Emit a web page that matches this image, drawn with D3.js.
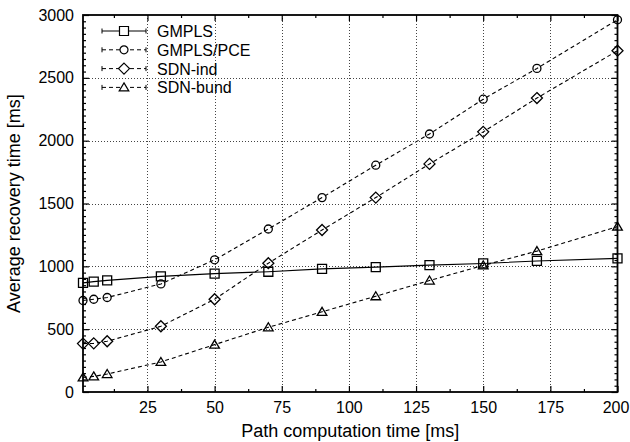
<!DOCTYPE html>
<html>
<head>
<meta charset="utf-8">
<script src="https://cdn.jsdelivr.net/npm/d3@7"></script>
<style>
  body { margin: 0; background: #fff; }
  svg { display: block; }
  text { font-family: "Liberation Sans", Arial, sans-serif; fill: #000; }
</style>
</head>
<body>
<svg></svg>
<script>
const xValues = [1, 5, 10, 30, 50, 70, 90, 110, 130, 150, 170, 200];
const gmpls = [868, 878, 888, 920, 942, 957, 980, 994, 1010, 1023, 1043, 1063];
const gmplsPce = [728, 738, 752, 860, 1052, 1297, 1547, 1805, 2053, 2330, 2575, 2962];
const sdnInd = [385, 387, 404, 523, 738, 1025, 1289, 1547, 1815, 2070, 2339, 2716];
const sdnBund = [116, 124, 143, 239, 377, 515, 638, 762, 887, 1007, 1121, 1316];

const seriesNames = ['GMPLS', 'GMPLS/PCE', 'SDN-ind', 'SDN-bund'];
const xTicks = [25, 50, 75, 100, 125, 150, 175, 200];
const yTicks = [0, 500, 1000, 1500, 2000, 2500, 3000];

const width = 630;
const height = 442;
const margin = {left: 83, right: 12.5, top: 15, bottom: 50};

const svg = d3.select('svg')
  .attr('width', width)
  .attr('height', height);

const xScale = d3.scaleLinear()
  .domain([1, 200])
  .range([margin.left, width - margin.right]);

const yScale = d3.scaleLinear()
  .domain([0, 3000])
  .range([height - margin.bottom, margin.top]);

const x0 = xScale.range()[0], x1 = xScale.range()[1];
const y0 = yScale.range()[0], y1 = yScale.range()[1];

// grid
const grid = svg.append('g')
  .attr('stroke', '#444')
  .attr('stroke-width', 1)
  .attr('stroke-dasharray', '1,2');

grid.selectAll('.vg')
  .data(xTicks.filter(d => d < 200))
  .enter()
  .append('line')
  .attr('x1', d => Math.round(xScale(d)) + 0.5)
  .attr('x2', d => Math.round(xScale(d)) + 0.5)
  .attr('y1', y1)
  .attr('y2', y0);

grid.selectAll('.hg')
  .data(yTicks.filter(d => d > 0 && d < 3000))
  .enter()
  .append('line')
  .attr('x1', x0)
  .attr('x2', x1)
  .attr('y1', d => Math.round(yScale(d)) + 0.5)
  .attr('y2', d => Math.round(yScale(d)) + 0.5);

// axes with inward ticks
const xMinor = d3.range(12.5, 200, 25);
const yMinor = d3.range(50, 3000, 50).filter(d => d % 500 !== 0);

const styleAxis = g => {
  g.select('.domain').remove();
  g.selectAll('line').attr('stroke', '#000').attr('stroke-width', 1.2);
  g.selectAll('text').style('font-size', '16px').style('font-family', '"Liberation Sans", Arial, sans-serif');
};

svg.append('g')
  .attr('transform', `translate(0, ${y0})`)
  .call(d3.axisBottom(xScale).tickValues(xTicks).tickSize(-6).tickPadding(10).tickFormat(d3.format('d')))
  .call(styleAxis)
  .call(g => g.selectAll('text').filter(d => d === 200).attr('dx', -2));

svg.append('g')
  .attr('transform', `translate(0, ${y0})`)
  .call(d3.axisBottom(xScale).tickValues(xMinor).tickSize(-3).tickFormat(''))
  .call(styleAxis);

svg.append('g')
  .attr('transform', `translate(0, ${y1})`)
  .call(d3.axisTop(xScale).tickValues(xTicks).tickSize(-6).tickFormat(''))
  .call(styleAxis);

svg.append('g')
  .attr('transform', `translate(0, ${y1})`)
  .call(d3.axisTop(xScale).tickValues(xMinor).tickSize(-3).tickFormat(''))
  .call(styleAxis);

svg.append('g')
  .attr('transform', `translate(${x0}, 0)`)
  .call(d3.axisLeft(yScale).tickValues(yTicks).tickSize(-6).tickPadding(9).tickFormat(d3.format('d')))
  .call(styleAxis);

svg.append('g')
  .attr('transform', `translate(${x0}, 0)`)
  .call(d3.axisLeft(yScale).tickValues(yMinor).tickSize(-3).tickFormat(''))
  .call(styleAxis);

svg.append('g')
  .attr('transform', `translate(${x1}, 0)`)
  .call(d3.axisRight(yScale).tickValues(yTicks).tickSize(-6).tickFormat(''))
  .call(styleAxis);

svg.append('g')
  .attr('transform', `translate(${x1}, 0)`)
  .call(d3.axisRight(yScale).tickValues(yMinor).tickSize(-3).tickFormat(''))
  .call(styleAxis);

// frame
svg.append('rect')
  .attr('x', x0)
  .attr('y', y1)
  .attr('width', x1 - x0)
  .attr('height', y0 - y1)
  .attr('fill', 'none')
  .attr('stroke', '#000')
  .attr('stroke-width', 1.8);

// series
const series = [
  {name: seriesNames[0], values: gmpls, dash: null, marker: 'square'},
  {name: seriesNames[1], values: gmplsPce, dash: '4,3', marker: 'circle'},
  {name: seriesNames[2], values: sdnInd, dash: '4,3', marker: 'diamond'},
  {name: seriesNames[3], values: sdnBund, dash: '4,3', marker: 'triangle'}
];

const markerPath = type => {
  if (type === 'square') return 'M-4.5,-4.5H4.5V4.5H-4.5Z';
  if (type === 'circle') return 'M-4,0A4,4 0 1,0 4,0A4,4 0 1,0 -4,0Z';
  if (type === 'diamond') return 'M0,-5.5L5.5,0L0,5.5L-5.5,0Z';
  return 'M0,-4.5L4.8,3.5H-4.8Z';
};

const line = d3.line()
  .x((d, i) => xScale(xValues[i]))
  .y(d => yScale(d));

series.forEach(s => {
  svg.append('path')
    .datum(s.values)
    .attr('d', line)
    .attr('fill', 'none')
    .attr('stroke', '#000')
    .attr('stroke-width', 1.1)
    .attr('stroke-dasharray', s.dash);

  svg.selectAll(null)
    .data(s.values)
    .enter()
    .append('path')
    .attr('d', markerPath(s.marker))
    .attr('transform', (d, i) => `translate(${xScale(xValues[i])}, ${yScale(d)})`)
    .attr('fill', 'none')
    .attr('stroke', '#000')
    .attr('stroke-width', 1.3);
});

// legend
const legend = svg.append('g');
series.forEach((s, i) => {
  const ly = 31 + i * 18.8;
  const g = legend.append('g').attr('transform', `translate(0, ${ly})`);
  g.append('line')
    .attr('x1', 102).attr('x2', 146)
    .attr('y1', 0).attr('y2', 0)
    .attr('stroke', '#000')
    .attr('stroke-width', 1)
    .attr('stroke-dasharray', s.dash);
  [102, 146].forEach(ex => {
    g.append('line')
      .attr('x1', ex).attr('x2', ex)
      .attr('y1', -2.5).attr('y2', 2.5)
      .attr('stroke', '#000');
  });
  g.append('path')
    .attr('d', markerPath(s.marker))
    .attr('transform', 'translate(124, 0)')
    .attr('fill', '#fff')
    .attr('stroke', '#000')
    .attr('stroke-width', 1.2);
  g.append('text')
    .attr('x', 157)
    .attr('y', 6)
    .style('font-size', '16px')
    .text(s.name);
});

// axis titles
svg.append('text')
  .attr('x', (x0 + x1) / 2)
  .attr('y', 437)
  .attr('text-anchor', 'middle')
  .style('font-size', '18px')
  .text('Path computation time [ms]');

svg.append('text')
  .attr('transform', `translate(20, ${(y0 + y1) / 2}) rotate(-90)`)
  .attr('text-anchor', 'middle')
  .style('font-size', '18px')
  .text('Average recovery time [ms]');
</script>
</body>
</html>
